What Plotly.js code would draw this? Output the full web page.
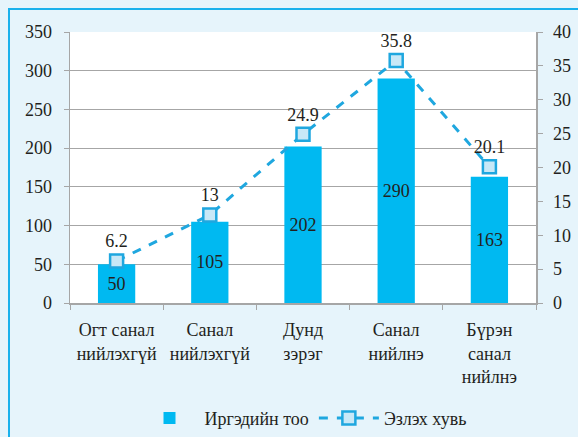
<!DOCTYPE html>
<html>
<head>
<meta charset="utf-8">
<script src="https://cdn.plot.ly/plotly-3.0.1.min.js"></script>
<style>
  html, body { margin:0; padding:0; background:#e6f4fb; }
  #chart { position:absolute; left:0; top:0; width:578px; height:437px; }
  #frame { position:absolute; left:8px; top:8px; width:600px; height:460px;
           border-left:2px solid #19b1ec; border-top:2px solid #19b1ec; pointer-events:none; }
</style>
</head>
<body>
<div id="chart"></div>
<div id="frame"></div>
<script>
const categories = ["Огт санал<br>нийлэхгүй", "Санал<br>нийлэхгүй", "Дунд<br>зэрэг", "Санал<br>нийлнэ", "Бүрэн<br>санал<br>нийлнэ"];
const counts = [50, 105, 202, 290, 163];
const percents = [6.2, 13, 24.9, 35.8, 20.1];
const countName = "Иргэдийн тоо";
const percentName = "Эзлэх хувь";

const font = "'Liberation Serif', 'Times New Roman', serif";
const txt = "#231f20";

const traces = [
  {
    type: "bar", x: categories, y: counts, name: countName,
    marker: { color: "#00b9f1" }, width: 0.4,
    text: counts.map(String), textposition: "inside", insidetextanchor: "middle",
    constraintext: "none",
    textfont: { family: font, size: 18, color: txt },
    yaxis: "y", hoverinfo: "skip"
  },
  {
    type: "scatter", mode: "lines+markers+text", x: categories, y: percents, name: percentName,
    line: { color: "#1fa7df", width: 3, dash: "dash" },
    marker: { symbol: "square", size: 13, color: "#c8e8f7", line: { color: "#1fa7df", width: 2.5 } },
    text: percents.map(String), textposition: "top center",
    textfont: { family: font, size: 18, color: txt },
    cliponaxis: false, yaxis: "y2", hoverinfo: "skip"
  }
];

const layout = {
  width: 578, height: 437,
  margin: { l: 70, r: 42, t: 32, b: 134 },
  paper_bgcolor: "#e6f4fb", plot_bgcolor: "#ffffff",
  font: { family: font, size: 18, color: txt },
  showlegend: true,
  legend: { orientation: "h", x: 0.5, xanchor: "center", yref: "container", y: 0.043, yanchor: "middle",
            font: { family: font, size: 18, color: txt }, bgcolor: "rgba(0,0,0,0)", itemwidth: 60 },
  xaxis: {
    type: "category", tickson: "boundaries", ticks: "outside", ticklen: 5, tickcolor: "#a6a6a6",
    showline: true, linecolor: "#a6a6a6", linewidth: 1.5, showgrid: false,
    ticklabelstandoff: 10,
    tickfont: { family: font, size: 18, color: txt }
  },
  yaxis: {
    range: [0, 350], dtick: 50, ticks: "outside", ticklen: 5, tickcolor: "#a6a6a6",
    showline: true, linecolor: "#a6a6a6", linewidth: 1.5,
    showgrid: true, gridcolor: "#a6a6a6", gridwidth: 1.2, zeroline: false,
    ticklabelstandoff: 8,
    tickfont: { family: font, size: 18, color: txt }
  },
  yaxis2: {
    range: [0, 40], dtick: 5, overlaying: "y", side: "right",
    ticks: "outside", ticklen: 5, tickcolor: "#a6a6a6",
    showline: true, linecolor: "#a6a6a6", linewidth: 1.5,
    showgrid: false, zeroline: false,
    ticklabelstandoff: 7,
    tickfont: { family: font, size: 18, color: txt }
  }
};

Plotly.newPlot("chart", traces, layout, { staticPlot: true, displayModeBar: false });
</script>
</body>
</html>
